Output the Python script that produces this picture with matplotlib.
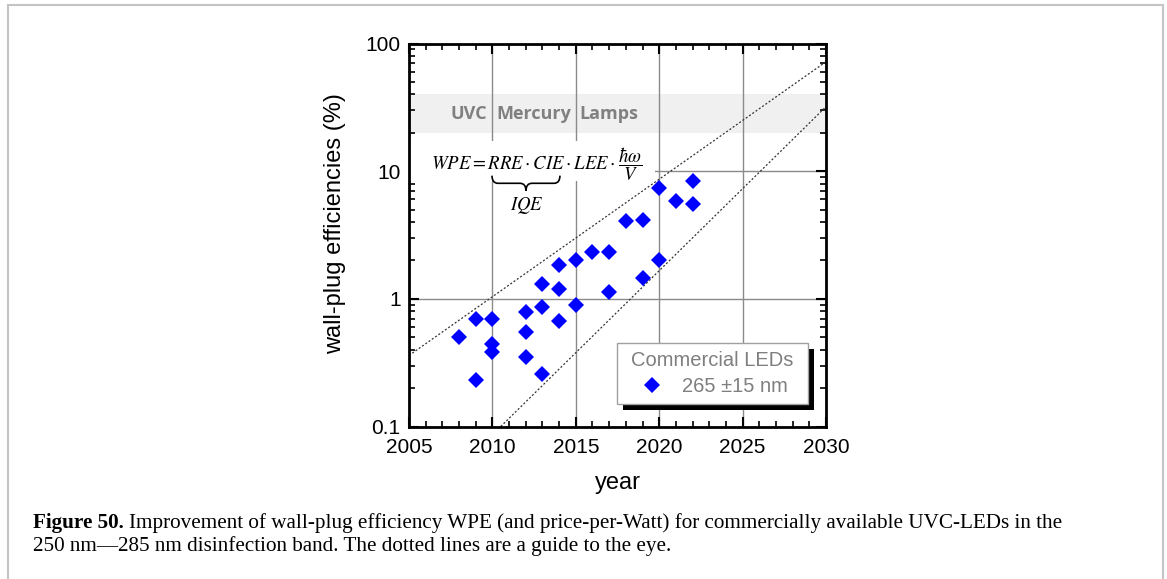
import numpy as np
import matplotlib
matplotlib.use("Agg")
import matplotlib.pyplot as plt
from matplotlib.patches import Rectangle, PathPatch
from matplotlib.path import Path
from matplotlib.transforms import IdentityTransform

plt.rcParams['font.family'] = ['Liberation Sans', 'DejaVu Sans']
plt.rcParams['mathtext.fontset'] = 'stix'

# commercial UVC LEDs, 265 +/- 15 nm
years = [2008, 2009, 2009, 2010, 2010, 2010, 2012, 2012, 2012, 2013, 2013, 2013,
         2014, 2014, 2014, 2015, 2015, 2016, 2017, 2017, 2018, 2019, 2019,
         2020, 2020, 2021, 2022, 2022]
wpe = [0.50, 0.70, 0.23, 0.70, 0.44, 0.38, 0.79, 0.55, 0.35, 1.31, 0.86, 0.26,
       1.85, 1.19, 0.67, 2.02, 0.90, 2.32, 2.32, 1.14, 4.10, 4.15, 1.45,
       7.44, 2.02, 5.89, 8.40, 5.51]

# guide-to-the-eye lines (two end points each)
upper_years = [2005, 2030]
upper_wpe = [0.36, 72]
lower_years = [2010.5, 2030]
lower_wpe = [0.1, 32]

# mercury lamp band
lamp_band = [20, 40]
lamp_words = ['UVC', 'Mercury', 'Lamps']
lamp_word_x = [2008.6, 2012.5, 2017.0]

caption_bold = 'Figure 50.'
caption_1 = 'Improvement of wall-plug efficiency WPE (and price-per-Watt) for commercially available UVC-LEDs in the'
caption_2 = '250 nm\u2014285 nm disinfection band. The dotted lines are a guide to the eye.'

W, H = 1167, 579
fig = plt.figure(figsize=(W / 100, H / 100), dpi=100)
ax = fig.add_axes([409 / W, 1 - 426.5 / H, 417 / W, 383 / H])

ax.set_yscale('log')
ax.set_xlim(2005, 2030)
ax.set_ylim(0.1, 100)
ax.autoscale(False)

ax.axhspan(lamp_band[0], lamp_band[1], color='#f0f0f0', lw=0, zorder=0)
ax.grid(True, which='major', color='#8a8a8a', lw=1.0, zorder=1)
ax.set_axisbelow(True)

for word, xw in zip(lamp_words, lamp_word_x):
    ax.text(xw, np.sqrt(lamp_band[0] * lamp_band[1]), word, ha='center', va='center',
            fontsize=13, fontweight='bold', color='#808080', family='Open Sans', zorder=2)

ax.plot(upper_years, upper_wpe, ls=(0, (1.6, 1.6)), color='#333333', lw=0.9, zorder=3)
ax.plot(lower_years, lower_wpe, ls=(0, (1.6, 1.6)), color='#333333', lw=0.9, zorder=3)

ax.plot(years, wpe, 'D', color='#0000ff', ms=8.1, mew=0, ls='none', zorder=4,
        label='265 \u00b115 nm')

ax.set_xticks([2005, 2010, 2015, 2020, 2025, 2030])
ax.set_xticks(np.arange(2005, 2031, 1), minor=True)
ax.set_yticks([0.1, 1, 10, 100])
ax.set_yticklabels(['0.1', '1', '10', '100'])
ax.tick_params(which='both', direction='in', top=True, right=True, labelsize=15)
ax.tick_params(axis='x', pad=8)
ax.tick_params(axis='y', pad=6)
ax.tick_params(which='major', length=7, width=1.5)
ax.tick_params(which='minor', length=4.5, width=1.2)
for s in ax.spines.values():
    s.set_linewidth(2)
    s.set_zorder(6)

ax.set_xlabel('year', fontsize=17, labelpad=11)
ax.set_ylabel('wall-plug efficiencies (%)', fontsize=17)
ax.yaxis.set_label_coords(-0.151, 0.531)

# white patch behind the formula hides the grid
ax.add_patch(Rectangle((0, 0.641), 0.59, 0.104, transform=ax.transAxes,
                       facecolor='white', edgecolor='none', zorder=4.5))
ax.text(0.053, 0.685, r'$WPE = RRE\cdot CIE\cdot LEE\cdot\dfrac{\hbar\omega}{V}$',
        transform=ax.transAxes, fontsize=13.5, ha='left', va='center', zorder=5)

# curly brace under RRE . CIE
x0, x1, yt, yb = 0.199, 0.362, 0.655, 0.615
xm, ym = (x0 + x1) / 2, (yt + yb) / 2
q = 6 / 417
verts = [(x0, yt), (x0, ym), (x0 + q, ym), (xm - q, ym), (xm, ym), (xm, yb),
         (xm, ym), (xm + q, ym), (x1 - q, ym), (x1, ym), (x1, yt)]
codes = [Path.MOVETO, Path.CURVE3, Path.CURVE3, Path.LINETO, Path.CURVE3, Path.CURVE3,
         Path.CURVE3, Path.CURVE3, Path.LINETO, Path.CURVE3, Path.CURVE3]
ax.add_patch(PathPatch(Path(verts, codes), transform=ax.transAxes, fill=False,
                       lw=1.2, color='black', zorder=5))
ax.text(0.283, 0.578, r'$IQE$', transform=ax.transAxes, fontsize=13.5,
        ha='center', va='center', zorder=5)

# legend content; frame and drop shadow drawn separately (wider side margins)
side = 6.5
leg = ax.legend(loc='lower right', bbox_to_anchor=((808 - side - 409) / 417, 0.0587),
                borderaxespad=0, title='Commercial LEDs', fontsize=14.5, title_fontsize=14.5,
                frameon=False, handletextpad=0.75, borderpad=0.4, labelspacing=0.35,
                handlelength=1.5)
leg.set_zorder(7)
for t in leg.get_texts():
    t.set_color('#7f7f7f')
leg.get_title().set_color('#7f7f7f')

fig.canvas.draw()
r = fig.canvas.get_renderer()
bb = leg.get_window_extent(r)
fx, fy, fw, fh = bb.x0 - side, bb.y0, bb.width + 2 * side, bb.height
ax.add_patch(Rectangle((fx + 6, fy - 6), fw, fh, transform=IdentityTransform(),
                       facecolor='black', edgecolor='none', zorder=6.5, clip_on=False))
ax.add_patch(Rectangle((fx, fy), fw, fh, transform=IdentityTransform(),
                       facecolor='white', edgecolor='#a0a0a0', lw=1.0, zorder=6.8, clip_on=False))

# caption
cap_fs = 15.2
cap_y1 = 1 - 528 / H
cap_y2 = 1 - 551 / H
tb = fig.text(33 / W, cap_y1, caption_bold, fontsize=cap_fs, fontweight='bold',
              family='Liberation Serif', va='baseline')
fig.canvas.draw()
tbb = tb.get_window_extent(fig.canvas.get_renderer())
fig.text((tbb.x1 + 5.5) / W, cap_y1, caption_1, fontsize=cap_fs, family='Liberation Serif', va='baseline')
fig.text(33 / W, cap_y2, caption_2, fontsize=cap_fs, family='Liberation Serif', va='baseline')

# outer frame
fig.add_artist(Rectangle((7.5 / W, -0.1), 1155.5 / W, 1.1 + (1 - 5.5 / H) - 1,
                         transform=fig.transFigure, fill=False, edgecolor='#c4c4c4', lw=1.5))

fig.savefig('out.png', dpi=100)
